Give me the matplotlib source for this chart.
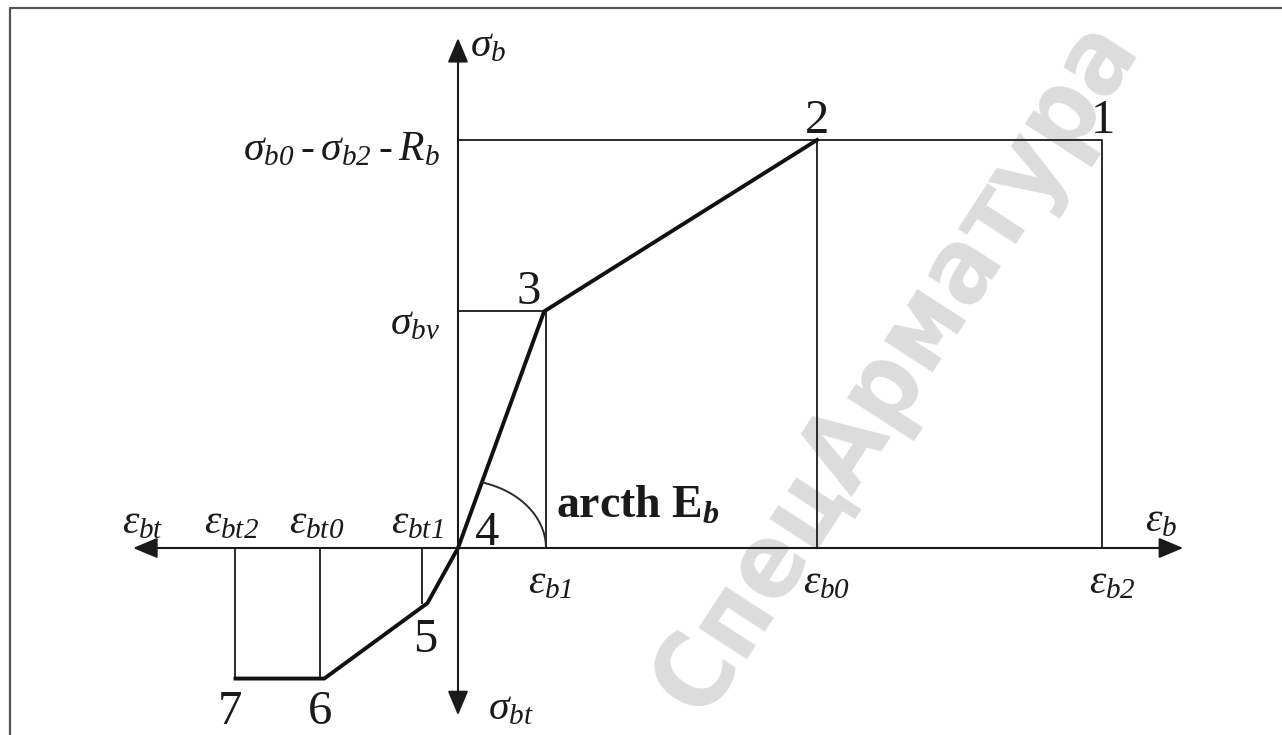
import numpy as np
import matplotlib.pyplot as plt

plt.rcParams['mathtext.fontset'] = 'custom'
plt.rcParams['mathtext.rm'] = 'Liberation Serif:italic'
plt.rcParams['mathtext.it'] = 'Liberation Serif:italic'
plt.rcParams['mathtext.bf'] = 'Liberation Serif:bold'
plt.rcParams['mathtext.bfit'] = 'Liberation Serif:bold:italic'
plt.rcParams['font.family'] = ['Liberation Serif', 'DejaVu Serif']

# strains (compression side / tension side)
eps_b = [0.49, 2.0, 3.59]        # eps_b1, eps_b0, eps_b2
eps_bt = [0.2, 0.77, 1.24]       # eps_bt1, eps_bt0, eps_bt2
# stresses
R_b = 1.0
sigma_bv = 0.58
sigma_bt1 = 0.135
R_bt = 0.32

# diagram, points 7 -> 2
curve_eps = [-1.24, -0.745, -0.17, 0.0, 0.48, 2.0]
curve_sig = [-0.32, -0.32, -0.135, 0.0, 0.58, 1.0]

fig = plt.figure(figsize=(12.82, 7.35), dpi=100)
ax = fig.add_axes([0, 0, 1, 1])
sx, sy = 179.5, 408.0
ax.set_xlim(-458 / sx, (1282 - 458) / sx)
ax.set_ylim(-(735 - 548) / sy, 548 / sy)
ax.axis('off')

# watermark
ax.text(0.7, 0.5, 'СпецАрматура', transform=ax.transAxes, rotation=57,
        ha='center', va='center', rotation_mode='anchor', fontsize=76,
        fontweight='bold', fontstretch='condensed', color='#dcdcdc', zorder=0,
        family=['DejaVu Sans'])

# frame
ax.plot([0.008, 0.008, 1.0], [0.0, 0.989, 0.989], transform=ax.transAxes,
        color='#555555', lw=1.6, clip_on=False)

thin = dict(color='#2b2b2b', lw=1.4)
ax.plot([0, eps_b[2], eps_b[2]], [R_b, R_b, 0], **thin)
ax.plot([eps_b[1], eps_b[1]], [0, R_b], **thin)
ax.plot([0, eps_b[0], eps_b[0]], [sigma_bv, sigma_bv, 0], **thin)
for e, s in zip(eps_bt, [sigma_bt1, R_bt, R_bt]):
    ax.plot([-e, -e], [0, -s], **thin)

ax.plot(curve_eps, curve_sig, color='#111111', lw=2.8)

# angle arc
k = curve_sig[4] / curve_eps[4]
a, b = eps_b[0], 0.167
t = np.linspace(0, np.arctan(k * a / b), 60)
ax.plot(a * np.cos(t), b * np.sin(t), **thin)

# axes with arrows
arr = dict(arrowstyle='<|-|>,head_length=1.0,head_width=0.42', mutation_scale=15,
           lw=1.5, color='#1a1a1a', shrinkA=0, shrinkB=0)
ax.annotate('', xy=(4.04, 0), xytext=(-1.81, 0), arrowprops=arr)
ax.annotate('', xy=(0, 1.25), xytext=(0, -0.41), arrowprops=arr)

fs = 30


def lab(s, xy, dx, dy, size=fs, **kw):
    ax.annotate(s, xy, xytext=(dx, dy), textcoords='offset pixels',
                fontsize=size, color='#1a1a1a', **kw)


# strain labels
lab(r'$\varepsilon_{b1}$', (eps_b[0], 0), 4, -16, ha='center', va='top')
lab(r'$\varepsilon_{b0}$', (eps_b[1], 0), 10, -16, ha='center', va='top')
lab(r'$\varepsilon_{b2}$', (eps_b[2], 0), 10, -16, ha='center', va='top')
lab(r'$\varepsilon_{b}$', (4.04, 0), -22, 8, ha='center', va='bottom')
lab(r'$\varepsilon_{bt}$', (-1.81, 0), 10, 6, ha='center', va='bottom')
lab(r'$\varepsilon_{bt2}$', (-eps_bt[2], 0), -4, 6, ha='center', va='bottom')
lab(r'$\varepsilon_{bt0}$', (-eps_bt[1], 0), -3, 6, ha='center', va='bottom')
lab(r'$\varepsilon_{bt1}$', (-eps_bt[0], 0), -5, 6, ha='center', va='bottom')

# stress labels
lab(r'$\sigma_{b}$', (0, 1.25), 12, -8, ha='left', va='center')
lab(r'$\sigma_{bt}$', (0, -0.41), 30, 6, ha='left', va='center')
lab(r'$\sigma_{b0}\:\text{-}\:\sigma_{b2}\:\text{-}\:R_{b}$',
    (0, R_b), -18, -10, ha='right', va='center')
lab(r'$\sigma_{bv}$', (0, sigma_bv), -18, -13, ha='right', va='center')

lab(r'$\mathbf{arcth\ E}_{\mathbfit{b}}$', (eps_b[0], 0), 10, 30,
    size=33, ha='left', va='baseline')

# point numbers
nfs = 35
lab('1', (eps_b[2], R_b), 0, 7, size=nfs, ha='center', va='baseline')
lab('2', (curve_eps[5], curve_sig[5]), 0, 7, size=nfs, ha='center', va='baseline')
lab('3', (curve_eps[4], curve_sig[4]), -15, 7, size=nfs, ha='center', va='baseline')
lab('4', (curve_eps[3], curve_sig[3]), 29, 3, size=nfs, ha='center', va='baseline')
lab('5', (curve_eps[2], curve_sig[2]), -2, -49, size=nfs, ha='center', va='baseline')
lab('6', (curve_eps[1], curve_sig[1]), -4, -45, size=nfs, ha='center', va='baseline')
lab('7', (curve_eps[0], curve_sig[0]), -5, -45, size=nfs, ha='center', va='baseline')

fig.savefig('out.png', dpi=100)
